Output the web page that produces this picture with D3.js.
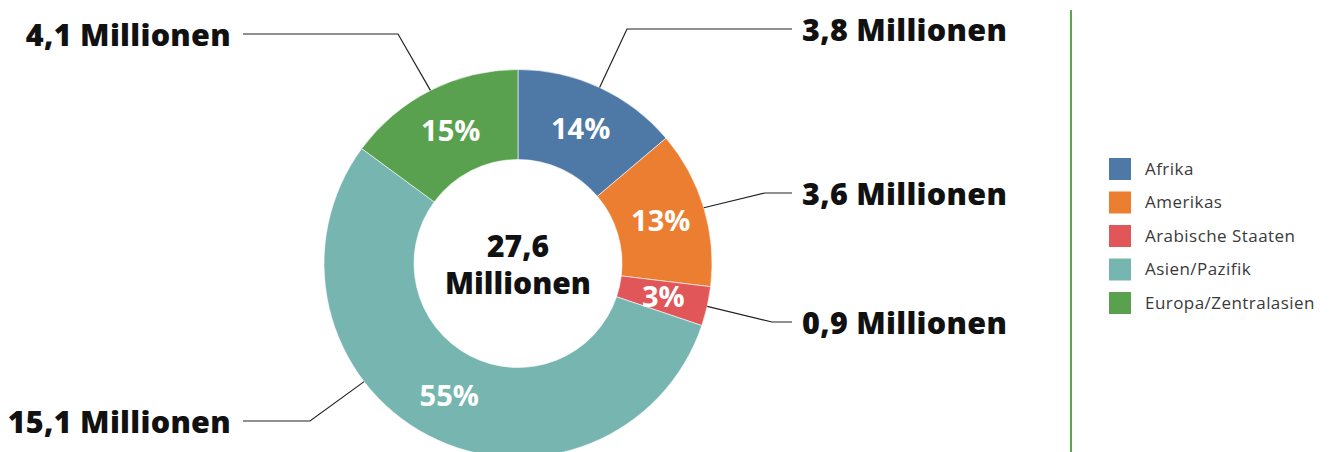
<!DOCTYPE html>
<html><head><meta charset="utf-8">
<script src="https://cdn.jsdelivr.net/npm/d3@7"></script>
<style>html,body{margin:0;padding:0;background:#fff;}svg{display:block;}</style>
</head><body>
<svg id="chart" width="1336" height="452"></svg>
<script>
const categories = ["Afrika", "Amerikas", "Arabische Staaten", "Asien/Pazifik", "Europa/Zentralasien"];
const values = [3.8, 3.6, 0.9, 15.1, 4.1];
const percentLabels = ["14%", "13%", "3%", "55%", "15%"];
const valueLabels = ["3,8 Millionen", "3,6 Millionen", "0,9 Millionen", "15,1 Millionen", "4,1 Millionen"];
const totalLabel = ["27,6", "Millionen"];
const colors = ["#4e78a6", "#ec7e31", "#e15659", "#77b6b0", "#59a14e"];

// layout (annotation geometry)
const cx = 518, cy = 263.5, R = 194, r0 = 104;
const leaderSide = ["right", "right", "right", "left", "left"];
const leaderY = [29, 193, 322, 421, 34];
const elbowX = [627, 765, 772, 310, 398];
const leaderAngleShift = [0, 0, 0, 25, 0];

const svg = d3.select("#chart");
const g = svg.append("g").attr("transform", `translate(${cx},${cy})`);
const pie = d3.pie().sort(null).value(d => d);
const arcs = pie(values);
const arc = d3.arc().innerRadius(r0).outerRadius(R);
const color = d3.scaleOrdinal().domain(categories).range(colors);

g.selectAll("path.slice").data(arcs).join("path")
  .attr("class", "slice")
  .attr("d", arc)
  .attr("fill", (d, i) => color(categories[i]))
  .attr("stroke", "#fff").attr("stroke-width", 0.6);

const labelArc = d3.arc().innerRadius(r0 + 2).outerRadius(R - 2);
g.selectAll("text.pct").data(arcs).join("text")
  .attr("class", "pct")
  .attr("transform", d => { const c = labelArc.centroid(d); return `translate(${c[0]},${c[1]})`; })
  .attr("text-anchor", "middle").attr("dy", "0.36em")
  .attr("font-family", "Open Sans").attr("font-weight", 700).attr("font-size", 29)
  .attr("fill", "#fff")
  .text((d, i) => percentLabels[i]);

// center
g.append("text").attr("text-anchor", "middle").attr("y", -7)
  .attr("font-family", "Open Sans").attr("font-weight", 800).attr("font-size", 30).attr("fill", "#111")
  .text(totalLabel[0]);
g.append("text").attr("text-anchor", "middle").attr("y", 30)
  .attr("font-family", "Open Sans").attr("font-weight", 800).attr("font-size", 30).attr("fill", "#111")
  .text(totalLabel[1]);

// leaders
arcs.forEach((d, i) => {
  const a = (d.startAngle + d.endAngle) / 2 + leaderAngleShift[i] * Math.PI / 180;
  const sx = cx + R * Math.sin(a), sy = cy - R * Math.cos(a);
  const endX = leaderSide[i] === "right" ? 792 : 243;
  svg.append("polyline")
    .attr("points", `${sx},${sy} ${elbowX[i]},${leaderY[i]} ${endX},${leaderY[i]}`)
    .attr("fill", "none").attr("stroke", "#222").attr("stroke-width", 1.2);
  svg.append("text")
    .attr("x", leaderSide[i] === "right" ? 802 : 231)
    .attr("y", leaderY[i] + 12)
    .attr("text-anchor", leaderSide[i] === "right" ? "start" : "end")
    .attr("font-family", "Open Sans").attr("font-weight", 800).attr("font-size", 30.5)
    .attr("letter-spacing", 0.3).attr("fill", "#111")
    .text(valueLabels[i]);
});

// divider
svg.append("line").attr("x1", 1071).attr("x2", 1071).attr("y1", 10).attr("y2", 452)
  .attr("stroke", "#5aa64f").attr("stroke-width", 2);

// legend
const legend = svg.append("g").attr("transform", "translate(1109,158)");
const rows = legend.selectAll("g").data(categories).join("g")
  .attr("transform", (d, i) => `translate(0,${i * 33.5})`);
rows.append("rect").attr("width", 22).attr("height", 22).attr("fill", d => color(d));
rows.append("text").attr("x", 36).attr("y", 11).attr("dy", "0.35em")
  .attr("font-family", "Open Sans").attr("font-size", 17).attr("letter-spacing", 0.45).attr("fill", "#3a3a3a")
  .text(d => d);
</script>
</body></html>
